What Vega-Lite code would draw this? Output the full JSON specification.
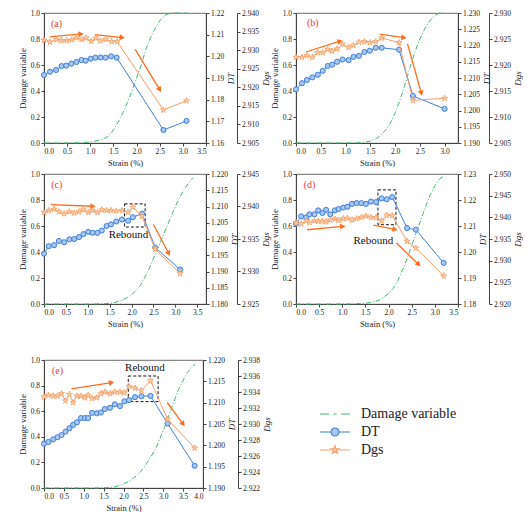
{
"$schema": "https://vega.github.io/schema/vega-lite/v6.json",
"padding": {"left": 17, "top": 8, "right": 0, "bottom": 0},
"background": "white",
"datasets": {
"aD": [{"strain":0,"value":0},{"strain":0.6,"value":0},{"strain":0.8,"value":0.002},{"strain":1.0,"value":0.008},{"strain":1.1,"value":0.014},{"strain":1.2,"value":0.023},{"strain":1.3,"value":0.034},{"strain":1.4,"value":0.055},{"strain":1.5,"value":0.1},{"strain":1.6,"value":0.16},{"strain":1.7,"value":0.23},{"strain":1.8,"value":0.31},{"strain":1.9,"value":0.4},{"strain":2.0,"value":0.5},{"strain":2.1,"value":0.6},{"strain":2.2,"value":0.72},{"strain":2.3,"value":0.81},{"strain":2.4,"value":0.88},{"strain":2.5,"value":0.94},{"strain":2.6,"value":0.98},{"strain":2.7,"value":0.995},{"strain":2.8,"value":1.0},{"strain":2.9,"value":1.0},{"strain":3.0,"value":1.0},{"strain":3.1,"value":1.0}],
"aT": [{"strain":0,"value":1.1914},{"strain":0.13,"value":1.1929},{"strain":0.26,"value":1.1937},{"strain":0.38,"value":1.1955},{"strain":0.48,"value":1.1957},{"strain":0.59,"value":1.1966},{"strain":0.70,"value":1.1974},{"strain":0.81,"value":1.1983},{"strain":0.90,"value":1.198},{"strain":1.01,"value":1.1989},{"strain":1.11,"value":1.1994},{"strain":1.22,"value":1.1995},{"strain":1.33,"value":1.1994},{"strain":1.45,"value":1.2},{"strain":1.57,"value":1.1994},{"strain":2.58,"value":1.166},{"strain":3.08,"value":1.1702}],
"aG": [{"strain":0,"value":2.9327},{"strain":0.13,"value":2.9322},{"strain":0.27,"value":2.9328},{"strain":0.38,"value":2.9326},{"strain":0.49,"value":2.9326},{"strain":0.60,"value":2.9328},{"strain":0.70,"value":2.9333},{"strain":0.81,"value":2.9329},{"strain":0.91,"value":2.9333},{"strain":1.02,"value":2.9324},{"strain":1.12,"value":2.9333},{"strain":1.22,"value":2.9325},{"strain":1.33,"value":2.9329},{"strain":1.46,"value":2.9323},{"strain":1.58,"value":2.9323},{"strain":2.58,"value":2.9139},{"strain":3.08,"value":2.9164}],
"aA": [{"strain":0.80,"value":0.839,"fromStrain":0.13,"fromValue":0.816},{"strain":1.69,"value":0.811,"fromStrain":1.10,"fromValue":0.834},{"strain":2.50,"value":0.41,"fromStrain":1.97,"fromValue":0.72}],
"aL": [{"strain":0.27,"value":0.913,"label":"(a)"}],
"bD": [{"strain":0,"value":0},{"strain":0.8,"value":0},{"strain":1.2,"value":0.001},{"strain":1.3,"value":0.002},{"strain":1.4,"value":0.006},{"strain":1.5,"value":0.015},{"strain":1.6,"value":0.03},{"strain":1.7,"value":0.055},{"strain":1.8,"value":0.095},{"strain":1.9,"value":0.15},{"strain":2.0,"value":0.23},{"strain":2.1,"value":0.33},{"strain":2.2,"value":0.45},{"strain":2.3,"value":0.58},{"strain":2.4,"value":0.7},{"strain":2.5,"value":0.8},{"strain":2.6,"value":0.88},{"strain":2.7,"value":0.94},{"strain":2.8,"value":0.98},{"strain":2.9,"value":1.0},{"strain":3.0,"value":1.0}],
"bT": [{"strain":0,"value":1.2065},{"strain":0.12,"value":1.2084},{"strain":0.22,"value":1.2094},{"strain":0.33,"value":1.2102},{"strain":0.44,"value":1.211},{"strain":0.54,"value":1.2122},{"strain":0.64,"value":1.2137},{"strain":0.73,"value":1.2141},{"strain":0.83,"value":1.215},{"strain":0.94,"value":1.2157},{"strain":1.06,"value":1.2155},{"strain":1.16,"value":1.2165},{"strain":1.27,"value":1.2168},{"strain":1.38,"value":1.218},{"strain":1.49,"value":1.2184},{"strain":1.61,"value":1.2193},{"strain":1.73,"value":1.2193},{"strain":2.08,"value":1.2187},{"strain":2.36,"value":1.2045},{"strain":3.0,"value":1.2005}],
"bG": [{"strain":0,"value":2.9215},{"strain":0.12,"value":2.9215},{"strain":0.22,"value":2.9218},{"strain":0.33,"value":2.9215},{"strain":0.44,"value":2.9224},{"strain":0.54,"value":2.9224},{"strain":0.64,"value":2.923},{"strain":0.73,"value":2.9227},{"strain":0.83,"value":2.9231},{"strain":0.94,"value":2.924},{"strain":1.06,"value":2.9234},{"strain":1.16,"value":2.9238},{"strain":1.27,"value":2.9244},{"strain":1.38,"value":2.9245},{"strain":1.49,"value":2.9243},{"strain":1.61,"value":2.9245},{"strain":1.73,"value":2.9252},{"strain":2.08,"value":2.9243},{"strain":2.36,"value":2.9132},{"strain":3.0,"value":2.9136}],
"bA": [{"strain":0.89,"value":0.783,"fromStrain":0.20,"fromValue":0.70},{"strain":2.18,"value":0.811,"fromStrain":1.69,"fromValue":0.837},{"strain":2.53,"value":0.383,"fromStrain":2.25,"fromValue":0.765}],
"bL": [{"strain":0.34,"value":0.92,"label":"(b)"}],
"cD": [{"strain":0,"value":0},{"strain":1.0,"value":0},{"strain":1.2,"value":0.001},{"strain":1.4,"value":0.003},{"strain":1.6,"value":0.01},{"strain":1.8,"value":0.03},{"strain":2.0,"value":0.07},{"strain":2.2,"value":0.14},{"strain":2.4,"value":0.27},{"strain":2.6,"value":0.43},{"strain":2.8,"value":0.59},{"strain":3.0,"value":0.75},{"strain":3.1,"value":0.82},{"strain":3.2,"value":0.88},{"strain":3.3,"value":0.93},{"strain":3.4,"value":0.97}],
"cT": [{"strain":0,"value":1.1955},{"strain":0.11,"value":1.1978},{"strain":0.23,"value":1.1981},{"strain":0.34,"value":1.1994},{"strain":0.46,"value":1.199},{"strain":0.58,"value":1.1999},{"strain":0.69,"value":1.2},{"strain":0.80,"value":1.2006},{"strain":0.90,"value":1.2015},{"strain":1.01,"value":1.2022},{"strain":1.11,"value":1.2019},{"strain":1.22,"value":1.2019},{"strain":1.32,"value":1.2026},{"strain":1.43,"value":1.204},{"strain":1.53,"value":1.2045},{"strain":1.65,"value":1.2054},{"strain":1.78,"value":1.206},{"strain":1.92,"value":1.2056},{"strain":2.03,"value":1.2067},{"strain":2.24,"value":1.2078},{"strain":2.54,"value":1.1974},{"strain":3.11,"value":1.1906}],
"cG": [{"strain":0,"value":2.9391},{"strain":0.11,"value":2.9394},{"strain":0.23,"value":2.9396},{"strain":0.34,"value":2.9392},{"strain":0.46,"value":2.9389},{"strain":0.58,"value":2.9392},{"strain":0.69,"value":2.939},{"strain":0.80,"value":2.9392},{"strain":0.90,"value":2.9395},{"strain":1.01,"value":2.9391},{"strain":1.11,"value":2.9394},{"strain":1.22,"value":2.9391},{"strain":1.32,"value":2.9395},{"strain":1.43,"value":2.9394},{"strain":1.53,"value":2.9394},{"strain":1.65,"value":2.9393},{"strain":1.78,"value":2.9394},{"strain":1.92,"value":2.9391},{"strain":2.03,"value":2.9399},{"strain":2.24,"value":2.9385},{"strain":2.54,"value":2.9334},{"strain":3.11,"value":2.9297}],
"cA": [{"strain":1.12,"value":0.752,"fromStrain":0.16,"fromValue":0.765},{"strain":2.85,"value":0.388,"fromStrain":2.5,"fromValue":0.612}],
"cB": [{"strain":1.84,"value":0.77,"strain2":2.31,"value2":0.592}],
"cR": [{"strain":1.93,"value":0.528,"label":"Rebound"}],
"cL": [{"strain":0.29,"value":0.918,"label":"(c)"}],
"dD": [{"strain":0,"value":0},{"strain":1.0,"value":0},{"strain":1.2,"value":0.001},{"strain":1.4,"value":0.003},{"strain":1.6,"value":0.01},{"strain":1.8,"value":0.03},{"strain":2.0,"value":0.08},{"strain":2.1,"value":0.12},{"strain":2.2,"value":0.18},{"strain":2.3,"value":0.26},{"strain":2.4,"value":0.35},{"strain":2.5,"value":0.45},{"strain":2.6,"value":0.55},{"strain":2.7,"value":0.65},{"strain":2.8,"value":0.75},{"strain":2.9,"value":0.84},{"strain":3.0,"value":0.91},{"strain":3.1,"value":0.96},{"strain":3.2,"value":0.99}],
"dT": [{"strain":0,"value":1.2109},{"strain":0.11,"value":1.2137},{"strain":0.22,"value":1.2133},{"strain":0.29,"value":1.2145},{"strain":0.40,"value":1.2145},{"strain":0.48,"value":1.216},{"strain":0.57,"value":1.215},{"strain":0.65,"value":1.2162},{"strain":0.74,"value":1.2145},{"strain":0.84,"value":1.216},{"strain":0.92,"value":1.2165},{"strain":1.02,"value":1.2171},{"strain":1.11,"value":1.2174},{"strain":1.21,"value":1.2185},{"strain":1.31,"value":1.2188},{"strain":1.41,"value":1.2188},{"strain":1.51,"value":1.2185},{"strain":1.62,"value":1.2194},{"strain":1.73,"value":1.2192},{"strain":1.85,"value":1.2206},{"strain":1.96,"value":1.2203},{"strain":2.08,"value":1.2211},{"strain":2.40,"value":1.2092},{"strain":2.59,"value":1.2086},{"strain":3.19,"value":1.1958}],
"dG": [{"strain":0,"value":2.9388},{"strain":0.11,"value":2.9385},{"strain":0.22,"value":2.9392},{"strain":0.29,"value":2.9388},{"strain":0.40,"value":2.9392},{"strain":0.48,"value":2.9391},{"strain":0.57,"value":2.9391},{"strain":0.65,"value":2.939},{"strain":0.74,"value":2.9394},{"strain":0.84,"value":2.9396},{"strain":0.92,"value":2.9393},{"strain":1.02,"value":2.9397},{"strain":1.11,"value":2.9398},{"strain":1.21,"value":2.9394},{"strain":1.31,"value":2.9397},{"strain":1.41,"value":2.94},{"strain":1.51,"value":2.9403},{"strain":1.62,"value":2.94},{"strain":1.73,"value":2.94},{"strain":1.85,"value":2.9392},{"strain":1.96,"value":2.9405},{"strain":2.08,"value":2.9404},{"strain":2.40,"value":2.9345},{"strain":2.59,"value":2.9329},{"strain":3.19,"value":2.9265}],
"dA": [{"strain":1.01,"value":0.597,"fromStrain":0.24,"fromValue":0.571},{"strain":2.14,"value":0.574,"fromStrain":1.67,"fromValue":0.607},{"strain":2.65,"value":0.304,"fromStrain":2.17,"fromValue":0.469}],
"dB": [{"strain":1.77,"value":0.878,"strain2":2.16,"value2":0.61}],
"dR": [{"strain":1.67,"value":0.482,"label":"Rebound"}],
"dL": [{"strain":0.29,"value":0.918,"label":"(d)"}],
"eD": [{"strain":0,"value":0},{"strain":1.2,"value":0},{"strain":1.4,"value":0.001},{"strain":1.6,"value":0.003},{"strain":1.8,"value":0.01},{"strain":2.0,"value":0.03},{"strain":2.2,"value":0.065},{"strain":2.4,"value":0.115},{"strain":2.6,"value":0.2},{"strain":2.8,"value":0.3},{"strain":3.0,"value":0.45},{"strain":3.1,"value":0.53},{"strain":3.2,"value":0.62},{"strain":3.4,"value":0.78},{"strain":3.6,"value":0.9},{"strain":3.8,"value":0.97}],
"eT": [{"strain":0,"value":1.2004},{"strain":0.11,"value":1.2008},{"strain":0.23,"value":1.2014},{"strain":0.34,"value":1.2019},{"strain":0.44,"value":1.2024},{"strain":0.54,"value":1.2032},{"strain":0.64,"value":1.204},{"strain":0.73,"value":1.2048},{"strain":0.83,"value":1.2054},{"strain":0.93,"value":1.2064},{"strain":1.03,"value":1.2064},{"strain":1.11,"value":1.2064},{"strain":1.21,"value":1.2076},{"strain":1.33,"value":1.2075},{"strain":1.43,"value":1.2077},{"strain":1.53,"value":1.2085},{"strain":1.66,"value":1.2088},{"strain":1.78,"value":1.2096},{"strain":1.91,"value":1.2092},{"strain":2.02,"value":1.2103},{"strain":2.14,"value":1.2106},{"strain":2.29,"value":1.2113},{"strain":2.45,"value":1.2115},{"strain":2.68,"value":1.2116},{"strain":3.11,"value":1.2051},{"strain":3.79,"value":1.1952}],
"eG": [{"strain":0,"value":2.9334},{"strain":0.11,"value":2.9336},{"strain":0.23,"value":2.9335},{"strain":0.34,"value":2.9335},{"strain":0.44,"value":2.9338},{"strain":0.54,"value":2.9329},{"strain":0.64,"value":2.9337},{"strain":0.73,"value":2.9327},{"strain":0.83,"value":2.9335},{"strain":0.93,"value":2.9335},{"strain":1.03,"value":2.9333},{"strain":1.11,"value":2.9336},{"strain":1.21,"value":2.9332},{"strain":1.33,"value":2.9333},{"strain":1.43,"value":2.9338},{"strain":1.53,"value":2.934},{"strain":1.66,"value":2.9338},{"strain":1.78,"value":2.934},{"strain":1.91,"value":2.934},{"strain":2.02,"value":2.9339},{"strain":2.14,"value":2.9347},{"strain":2.29,"value":2.9345},{"strain":2.45,"value":2.9342},{"strain":2.68,"value":2.9354},{"strain":3.11,"value":2.9306},{"strain":3.79,"value":2.927}],
"eA": [{"strain":1.70,"value":0.823,"fromStrain":0.69,"fromValue":0.774},{"strain":3.5,"value":0.499,"fromStrain":3.1,"fromValue":0.668}],
"eB": [{"strain":2.12,"value":0.875,"strain2":2.87,"value2":0.675}],
"eR": [{"strain":2.54,"value":0.935,"label":"Rebound"}],
"eL": [{"strain":0.34,"value":0.914,"label":"(e)"}],
"legendItems": [{"series":"Damage variable"},{"series":"DT"},{"series":"Dgs"}]
},
"vconcat": [
{"vconcat": [
{"hconcat": [
{
"width": 162, "height": 130,
"encoding": {"x": {"field": "strain", "type": "quantitative", "scale": {"domain": [0, 3.5], "nice": false, "zero": false}, "axis": {"title": "Strain (%)", "values": [0,0.5,1,1.5,2,2.5,3,3.5], "format": ".1f"}}},
"layer": [
{"encoding": {"y": {"field": "value", "type": "quantitative", "scale": {"domain": [0,1], "nice": false}, "axis": {"title": "Damage variable", "values": [0,0.2,0.4,0.6,0.8,1], "format": ".1f"}}},
"layer": [
{"data": {"name": "aD"}, "mark": {"type": "line", "stroke": "#3cb96a", "strokeWidth": 1, "strokeDash": [5,2,1,2]}},
{"data": {"name": "aA"}, "mark": {"type": "rule", "stroke": "#ff6d1f", "strokeWidth": 1.3}, "encoding": {"x2": {"field": "fromStrain"}, "y2": {"field": "fromValue"}}},
{"data": {"name": "aA"}, "transform": [{"calculate": "atan2(-(datum.value-datum.fromValue)*130, (datum.strain-datum.fromStrain)*162/3.5)*180/PI", "as": "angle"}], "mark": {"type": "point", "shape": "triangle-right", "filled": true, "fill": "#ff6d1f", "strokeWidth": 0, "size": 36, "opacity": 1}, "encoding": {"angle": {"field": "angle", "type": "quantitative", "scale": null}}},
{"data": {"name": "aL"}, "mark": {"type": "text", "color": "#e83a30", "fontSize": 10}, "encoding": {"text": {"field": "label"}}}
]},
{"data": {"name": "aT"}, "encoding": {"y": {"field": "value", "type": "quantitative", "scale": {"domain": [1.16,1.22], "nice": false, "zero": false}, "axis": {"orient": "right", "title": "DT", "titleAngle": 270, "titleBaseline": "top", "titleFontStyle": "italic", "values": [1.16,1.17,1.18,1.19,1.2,1.21,1.22], "format": ".2f"}}},
"layer": [
{"mark": {"type": "line", "stroke": "#3f7fdc", "strokeWidth": 1}},
{"mark": {"type": "point", "shape": "circle", "size": 26, "filled": true, "fill": "#a8c6f0", "stroke": "#3f7fdc", "strokeWidth": 1, "opacity": 1}}
]},
{"data": {"name": "aG"}, "encoding": {"y": {"field": "value", "type": "quantitative", "scale": {"domain": [2.905,2.94], "nice": false, "zero": false}, "axis": {"orient": "right", "offset": 31, "title": "Dgs", "titleAngle": 270, "titleBaseline": "top", "titleFontStyle": "italic", "values": [2.905,2.91,2.915,2.92,2.925,2.93,2.935,2.94], "format": ".3f"}}},
"layer": [
{"mark": {"type": "line", "stroke": "#f5a06a", "strokeWidth": 1}},
{"mark": {"type": "point", "shape": "M0,-1L0.2245,-0.309L0.9511,-0.309L0.3633,0.118L0.5878,0.809L0,0.382L-0.5878,0.809L-0.3633,0.118L-0.9511,-0.309L-0.2245,-0.309Z", "size": 40, "filled": true, "fill": "#fcd0ae", "stroke": "#f3a065", "strokeWidth": 0.8, "opacity": 1}}
]}
],
"resolve": {"scale": {"y": "independent"}, "axis": {"y": "independent"}}
},
{
"width": 162, "height": 130,
"encoding": {"x": {"field": "strain", "type": "quantitative", "scale": {"domain": [0, 3.27], "nice": false, "zero": false}, "axis": {"title": "Strain (%)", "values": [0,0.5,1,1.5,2,2.5,3], "format": ".1f"}}},
"layer": [
{"encoding": {"y": {"field": "value", "type": "quantitative", "scale": {"domain": [0,1], "nice": false}, "axis": {"title": "Damage variable", "values": [0,0.2,0.4,0.6,0.8,1], "format": ".1f"}}},
"layer": [
{"data": {"name": "bD"}, "mark": {"type": "line", "stroke": "#3cb96a", "strokeWidth": 1, "strokeDash": [5,2,1,2]}},
{"data": {"name": "bA"}, "mark": {"type": "rule", "stroke": "#ff6d1f", "strokeWidth": 1.3}, "encoding": {"x2": {"field": "fromStrain"}, "y2": {"field": "fromValue"}}},
{"data": {"name": "bA"}, "transform": [{"calculate": "atan2(-(datum.value-datum.fromValue)*130, (datum.strain-datum.fromStrain)*162/3.27)*180/PI", "as": "angle"}], "mark": {"type": "point", "shape": "triangle-right", "filled": true, "fill": "#ff6d1f", "strokeWidth": 0, "size": 36, "opacity": 1}, "encoding": {"angle": {"field": "angle", "type": "quantitative", "scale": null}}},
{"data": {"name": "bL"}, "mark": {"type": "text", "color": "#e83a30", "fontSize": 10}, "encoding": {"text": {"field": "label"}}}
]},
{"data": {"name": "bT"}, "encoding": {"y": {"field": "value", "type": "quantitative", "scale": {"domain": [1.19,1.23], "nice": false, "zero": false}, "axis": {"orient": "right", "title": "DT", "titleAngle": 270, "titleBaseline": "top", "titleFontStyle": "italic", "values": [1.19,1.195,1.2,1.205,1.21,1.215,1.22,1.225,1.23], "format": ".3f"}}},
"layer": [
{"mark": {"type": "line", "stroke": "#3f7fdc", "strokeWidth": 1}},
{"mark": {"type": "point", "shape": "circle", "size": 26, "filled": true, "fill": "#a8c6f0", "stroke": "#3f7fdc", "strokeWidth": 1, "opacity": 1}}
]},
{"data": {"name": "bG"}, "encoding": {"y": {"field": "value", "type": "quantitative", "scale": {"domain": [2.905,2.93], "nice": false, "zero": false}, "axis": {"orient": "right", "offset": 31, "title": "Dgs", "titleAngle": 270, "titleBaseline": "top", "titleFontStyle": "italic", "values": [2.905,2.91,2.915,2.92,2.925,2.93], "format": ".3f"}}},
"layer": [
{"mark": {"type": "line", "stroke": "#f5a06a", "strokeWidth": 1}},
{"mark": {"type": "point", "shape": "M0,-1L0.2245,-0.309L0.9511,-0.309L0.3633,0.118L0.5878,0.809L0,0.382L-0.5878,0.809L-0.3633,0.118L-0.9511,-0.309L-0.2245,-0.309Z", "size": 40, "filled": true, "fill": "#fcd0ae", "stroke": "#f3a065", "strokeWidth": 0.8, "opacity": 1}}
]}
],
"resolve": {"scale": {"y": "independent"}, "axis": {"y": "independent"}}
}
], "spacing": -2},
{"hconcat": [
{
"width": 162, "height": 130,
"encoding": {"x": {"field": "strain", "type": "quantitative", "scale": {"domain": [0, 3.7], "nice": false, "zero": false}, "axis": {"title": "Strain (%)", "values": [0,0.5,1,1.5,2,2.5,3,3.5], "format": ".1f"}}},
"layer": [
{"encoding": {"y": {"field": "value", "type": "quantitative", "scale": {"domain": [0,1], "nice": false}, "axis": {"title": "Damage variable", "values": [0,0.2,0.4,0.6,0.8,1], "format": ".1f"}}},
"layer": [
{"data": {"name": "cD"}, "mark": {"type": "line", "stroke": "#3cb96a", "strokeWidth": 1, "strokeDash": [5,2,1,2]}},
{"data": {"name": "cA"}, "mark": {"type": "rule", "stroke": "#ff6d1f", "strokeWidth": 1.3}, "encoding": {"x2": {"field": "fromStrain"}, "y2": {"field": "fromValue"}}},
{"data": {"name": "cA"}, "transform": [{"calculate": "atan2(-(datum.value-datum.fromValue)*130, (datum.strain-datum.fromStrain)*162/3.7)*180/PI", "as": "angle"}], "mark": {"type": "point", "shape": "triangle-right", "filled": true, "fill": "#ff6d1f", "strokeWidth": 0, "size": 36, "opacity": 1}, "encoding": {"angle": {"field": "angle", "type": "quantitative", "scale": null}}},
{"data": {"name": "cB"}, "mark": {"type": "rect", "fill": "transparent", "stroke": "#111", "strokeWidth": 1, "strokeDash": [3,2]}, "encoding": {"x2": {"field": "strain2"}, "y2": {"field": "value2"}}},
{"data": {"name": "cR"}, "mark": {"type": "text", "color": "#111", "fontSize": 11}, "encoding": {"text": {"field": "label"}}},
{"data": {"name": "cL"}, "mark": {"type": "text", "color": "#e83a30", "fontSize": 10}, "encoding": {"text": {"field": "label"}}}
]},
{"data": {"name": "cT"}, "encoding": {"y": {"field": "value", "type": "quantitative", "scale": {"domain": [1.18,1.22], "nice": false, "zero": false}, "axis": {"orient": "right", "title": "DT", "titleAngle": 270, "titleBaseline": "top", "titleFontStyle": "italic", "values": [1.18,1.185,1.19,1.195,1.2,1.205,1.21,1.215,1.22], "format": ".3f"}}},
"layer": [
{"mark": {"type": "line", "stroke": "#3f7fdc", "strokeWidth": 1}},
{"mark": {"type": "point", "shape": "circle", "size": 26, "filled": true, "fill": "#a8c6f0", "stroke": "#3f7fdc", "strokeWidth": 1, "opacity": 1}}
]},
{"data": {"name": "cG"}, "encoding": {"y": {"field": "value", "type": "quantitative", "scale": {"domain": [2.925,2.945], "nice": false, "zero": false}, "axis": {"orient": "right", "offset": 31, "title": "Dgs", "titleAngle": 270, "titleBaseline": "top", "titleFontStyle": "italic", "values": [2.925,2.93,2.935,2.94,2.945], "format": ".3f"}}},
"layer": [
{"mark": {"type": "line", "stroke": "#f5a06a", "strokeWidth": 1}},
{"mark": {"type": "point", "shape": "M0,-1L0.2245,-0.309L0.9511,-0.309L0.3633,0.118L0.5878,0.809L0,0.382L-0.5878,0.809L-0.3633,0.118L-0.9511,-0.309L-0.2245,-0.309Z", "size": 40, "filled": true, "fill": "#fcd0ae", "stroke": "#f3a065", "strokeWidth": 0.8, "opacity": 1}}
]}
],
"resolve": {"scale": {"y": "independent"}, "axis": {"y": "independent"}}
},
{
"width": 162, "height": 130,
"encoding": {"x": {"field": "strain", "type": "quantitative", "scale": {"domain": [0, 3.5], "nice": false, "zero": false}, "axis": {"title": "Strain (%)", "values": [0,0.5,1,1.5,2,2.5,3,3.5], "format": ".1f"}}},
"layer": [
{"encoding": {"y": {"field": "value", "type": "quantitative", "scale": {"domain": [0,1], "nice": false}, "axis": {"title": "Damage variable", "values": [0,0.2,0.4,0.6,0.8,1], "format": ".1f"}}},
"layer": [
{"data": {"name": "dD"}, "mark": {"type": "line", "stroke": "#3cb96a", "strokeWidth": 1, "strokeDash": [5,2,1,2]}},
{"data": {"name": "dA"}, "mark": {"type": "rule", "stroke": "#ff6d1f", "strokeWidth": 1.3}, "encoding": {"x2": {"field": "fromStrain"}, "y2": {"field": "fromValue"}}},
{"data": {"name": "dA"}, "transform": [{"calculate": "atan2(-(datum.value-datum.fromValue)*130, (datum.strain-datum.fromStrain)*162/3.5)*180/PI", "as": "angle"}], "mark": {"type": "point", "shape": "triangle-right", "filled": true, "fill": "#ff6d1f", "strokeWidth": 0, "size": 36, "opacity": 1}, "encoding": {"angle": {"field": "angle", "type": "quantitative", "scale": null}}},
{"data": {"name": "dB"}, "mark": {"type": "rect", "fill": "transparent", "stroke": "#111", "strokeWidth": 1, "strokeDash": [3,2]}, "encoding": {"x2": {"field": "strain2"}, "y2": {"field": "value2"}}},
{"data": {"name": "dR"}, "mark": {"type": "text", "color": "#111", "fontSize": 11}, "encoding": {"text": {"field": "label"}}},
{"data": {"name": "dL"}, "mark": {"type": "text", "color": "#e83a30", "fontSize": 10}, "encoding": {"text": {"field": "label"}}}
]},
{"data": {"name": "dT"}, "encoding": {"y": {"field": "value", "type": "quantitative", "scale": {"domain": [1.18,1.23], "nice": false, "zero": false}, "axis": {"orient": "right", "title": "DT", "titleAngle": 270, "titleBaseline": "top", "titleFontStyle": "italic", "values": [1.18,1.19,1.2,1.21,1.22,1.23], "format": ".2f"}}},
"layer": [
{"mark": {"type": "line", "stroke": "#3f7fdc", "strokeWidth": 1}},
{"mark": {"type": "point", "shape": "circle", "size": 26, "filled": true, "fill": "#a8c6f0", "stroke": "#3f7fdc", "strokeWidth": 1, "opacity": 1}}
]},
{"data": {"name": "dG"}, "encoding": {"y": {"field": "value", "type": "quantitative", "scale": {"domain": [2.92,2.95], "nice": false, "zero": false}, "axis": {"orient": "right", "offset": 31, "title": "Dgs", "titleAngle": 270, "titleBaseline": "top", "titleFontStyle": "italic", "values": [2.92,2.925,2.93,2.935,2.94,2.945,2.95], "format": ".3f"}}},
"layer": [
{"mark": {"type": "line", "stroke": "#f5a06a", "strokeWidth": 1}},
{"mark": {"type": "point", "shape": "M0,-1L0.2245,-0.309L0.9511,-0.309L0.3633,0.118L0.5878,0.809L0,0.382L-0.5878,0.809L-0.3633,0.118L-0.9511,-0.309L-0.2245,-0.309Z", "size": 40, "filled": true, "fill": "#fcd0ae", "stroke": "#f3a065", "strokeWidth": 0.8, "opacity": 1}}
]}
],
"resolve": {"scale": {"y": "independent"}, "axis": {"y": "independent"}}
}
], "spacing": -2}
], "spacing": 2},
{
"width": 159, "height": 128,
"encoding": {"x": {"field": "strain", "type": "quantitative", "scale": {"domain": [0, 4], "nice": false, "zero": false}, "axis": {"title": "Strain (%)", "values": [0,0.5,1,1.5,2,2.5,3,3.5,4], "format": ".1f"}}},
"layer": [
{"encoding": {"y": {"field": "value", "type": "quantitative", "scale": {"domain": [0,1], "nice": false}, "axis": {"title": "Damage variable", "values": [0,0.2,0.4,0.6,0.8,1], "format": ".1f"}}},
"layer": [
{"data": {"name": "eD"}, "mark": {"type": "line", "stroke": "#3cb96a", "strokeWidth": 1, "strokeDash": [5,2,1,2]}},
{"data": {"name": "eA"}, "mark": {"type": "rule", "stroke": "#ff6d1f", "strokeWidth": 1.3}, "encoding": {"x2": {"field": "fromStrain"}, "y2": {"field": "fromValue"}}},
{"data": {"name": "eA"}, "transform": [{"calculate": "atan2(-(datum.value-datum.fromValue)*128, (datum.strain-datum.fromStrain)*159/4)*180/PI", "as": "angle"}], "mark": {"type": "point", "shape": "triangle-right", "filled": true, "fill": "#ff6d1f", "strokeWidth": 0, "size": 36, "opacity": 1}, "encoding": {"angle": {"field": "angle", "type": "quantitative", "scale": null}}},
{"data": {"name": "eB"}, "mark": {"type": "rect", "fill": "transparent", "stroke": "#111", "strokeWidth": 1, "strokeDash": [3,2]}, "encoding": {"x2": {"field": "strain2"}, "y2": {"field": "value2"}}},
{"data": {"name": "eR"}, "mark": {"type": "text", "color": "#111", "fontSize": 11}, "encoding": {"text": {"field": "label"}}},
{"data": {"name": "eL"}, "mark": {"type": "text", "color": "#e83a30", "fontSize": 10}, "encoding": {"text": {"field": "label"}}}
]},
{"data": {"name": "eT"}, "encoding": {"y": {"field": "value", "type": "quantitative", "scale": {"domain": [1.19,1.22], "nice": false, "zero": false}, "axis": {"orient": "right", "title": "DT", "titleAngle": 270, "titleBaseline": "top", "titleFontStyle": "italic", "values": [1.19,1.195,1.2,1.205,1.21,1.215,1.22], "format": ".3f"}}},
"layer": [
{"mark": {"type": "line", "stroke": "#3f7fdc", "strokeWidth": 1}},
{"mark": {"type": "point", "shape": "circle", "size": 26, "filled": true, "fill": "#a8c6f0", "stroke": "#3f7fdc", "strokeWidth": 1, "opacity": 1}}
]},
{"data": {"name": "eG"}, "encoding": {"y": {"field": "value", "type": "quantitative", "scale": {"domain": [2.922,2.938], "nice": false, "zero": false}, "axis": {"orient": "right", "offset": 35, "title": "Dgs", "titleAngle": 270, "titleBaseline": "top", "titleFontStyle": "italic", "values": [2.922,2.924,2.926,2.928,2.93,2.932,2.934,2.936,2.938], "format": ".3f"}}},
"layer": [
{"mark": {"type": "line", "stroke": "#f5a06a", "strokeWidth": 1}},
{"mark": {"type": "point", "shape": "M0,-1L0.2245,-0.309L0.9511,-0.309L0.3633,0.118L0.5878,0.809L0,0.382L-0.5878,0.809L-0.3633,0.118L-0.9511,-0.309L-0.2245,-0.309Z", "size": 40, "filled": true, "fill": "#fcd0ae", "stroke": "#f3a065", "strokeWidth": 0.8, "opacity": 1}}
]},
{"data": {"name": "legendItems"},
"mark": {"type": "point", "filled": true, "clip": true, "opacity": 1, "size": 64, "strokeWidth": 1.2},
"encoding": {
"x": {"datum": -1, "type": "quantitative", "scale": {"domain": [0, 4], "nice": false, "zero": false}, "axis": {"title": "Strain (%)", "values": [0,0.5,1,1.5,2,2.5,3,3.5,4], "format": ".1f"}},
"y": {"datum": 0.5, "type": "quantitative", "scale": {"domain": [0,1], "nice": false}, "axis": null},
"stroke": {"field": "series", "type": "nominal", "scale": {"domain": ["Damage variable","DT","Dgs"], "range": ["#3cb96a","#3f7fdc","#f5a06a"]}, "legend": {"orient": "none", "legendX": 284, "legendY": 394, "title": null, "labelFontSize": 14, "labelFont": "Liberation Serif", "labelColor": "#222", "symbolSize": 64, "symbolStrokeWidth": 1.2, "labelOffset": 19, "rowPadding": 4}},
"fill": {"field": "series", "type": "nominal", "scale": {"domain": ["Damage variable","DT","Dgs"], "range": ["transparent","#a8c6f0","#fcd0ae"]}, "legend": {"orient": "none", "legendX": 284, "legendY": 394, "title": null, "labelFontSize": 14, "labelFont": "Liberation Serif", "labelColor": "#222", "symbolSize": 64, "symbolStrokeWidth": 1.2, "labelOffset": 19, "rowPadding": 4}},
"shape": {"field": "series", "type": "nominal", "scale": {"domain": ["Damage variable","DT","Dgs"], "range": ["M-3.75,0H-1.5M-0.4,0H0.4M1.5,0H3.75", "M-3.75,0H-1M1,0H3.75M-1,0A1,1,0,1,1,1,0A1,1,0,1,1,-1,0Z", "M-3.75,0H-1M1,0H3.75M0,-1L0.2245,-0.309L0.9511,-0.309L0.3633,0.118L0.5878,0.809L0,0.382L-0.5878,0.809L-0.3633,0.118L-0.9511,-0.309L-0.2245,-0.309Z"]}, "legend": {"orient": "none", "legendX": 284, "legendY": 394, "title": null, "labelFontSize": 14, "labelFont": "Liberation Serif", "labelColor": "#222", "symbolSize": 64, "symbolStrokeWidth": 1.2, "labelOffset": 19, "rowPadding": 4}}
}}
],
"resolve": {"scale": {"y": "independent"}, "axis": {"y": "independent"}}
}
], "spacing": 27,
"config": {
"font": "Liberation Serif",
"view": {"stroke": "#444", "strokeWidth": 0.8},
"axis": {"grid": false, "labelFont": "Liberation Serif", "titleFont": "Liberation Serif", "labelFontSize": 7.5, "titleFontSize": 9, "titleFontWeight": "normal", "labelColor": "#222", "titleColor": "#222", "domainColor": "#444", "tickColor": "#444", "tickSize": 3, "labelPadding": 1.5, "titlePadding": 3, "labelOverlap": false},
"axisX": {"titleFontSize": 8.5},
"text": {"font": "Liberation Serif"}
}
}
